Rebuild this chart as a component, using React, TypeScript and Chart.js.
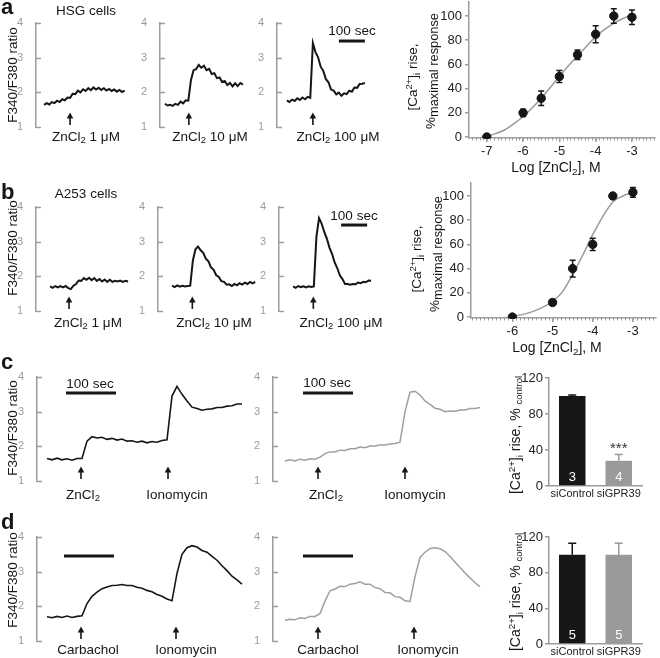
import React, { useEffect, useRef } from 'react';
import { Chart, registerables } from 'chart.js';

Chart.register(...registerables);

const FONT = '"Liberation Sans", Arial, Helvetica, sans-serif';
Chart.defaults.font.family = FONT;

const INK = '#161616';
const AXIS_GRAY = '#9c9c9c';
const LIGHT_TRACE = '#a0a0a0';
const BAR_GRAY = '#9a9a9a';
const FIT_GRAY = '#9a9a9a';
const LABEL_DARK = '#222222';

// ---------------- traces: F340/F380 ratio, one sample every 10 s ----------------
const RATIO_TICKS = [1, 2, 3, 4];
const TRACE_STEP_SEC = 10;
const SCALE_BAR_SEC = 100;
const ARROW_TIP = 1.42;
const ARROW_TAIL = 1.06;

const HSG_ZN_1UM = [1.64, 1.69, 1.65, 1.72, 1.69, 1.76, 1.72, 1.80, 1.77, 1.85, 1.84, 1.96, 1.95, 2.05, 2.00, 2.09, 2.04, 2.12, 2.06, 2.14, 2.08, 2.13, 2.07, 2.12, 2.05, 2.10, 2.04, 2.08, 2.02, 2.07, 2.01, 2.05];
const HSG_ZN_10UM = [1.67, 1.62, 1.64, 1.61, 1.67, 1.64, 1.73, 1.68, 1.77, 1.76, 2.35, 2.64, 2.67, 2.79, 2.71, 2.77, 2.64, 2.68, 2.53, 2.55, 2.41, 2.43, 2.30, 2.33, 2.21, 2.27, 2.17, 2.26, 2.18, 2.27, 2.22];
const HSG_ZN_100UM = [1.77, 1.72, 1.79, 1.75, 1.83, 1.78, 1.85, 1.80, 1.87, 1.84, 3.42, 3.16, 3.01, 2.74, 2.62, 2.38, 2.29, 2.08, 2.05, 1.94, 1.99, 1.90, 1.97, 1.95, 2.05, 2.02, 2.14, 2.13, 2.24, 2.25, 2.27];
const A253_ZN_1UM = [1.71, 1.67, 1.72, 1.68, 1.72, 1.68, 1.72, 1.66, 1.63, 1.73, 1.78, 1.88, 1.87, 1.95, 1.90, 1.96, 1.89, 1.95, 1.87, 1.92, 1.85, 1.91, 1.84, 1.90, 1.84, 1.87, 1.85, 1.88, 1.84, 1.87, 1.85];
const A253_ZN_10UM = [1.73, 1.69, 1.74, 1.70, 1.73, 1.71, 1.72, 1.73, 2.45, 2.78, 2.86, 2.75, 2.68, 2.51, 2.43, 2.26, 2.19, 2.03, 1.98, 1.86, 1.84, 1.76, 1.77, 1.72, 1.78, 1.74, 1.80, 1.76, 1.82, 1.78, 1.84, 1.80, 1.84];
const A253_ZN_100UM = [1.71, 1.67, 1.72, 1.69, 1.71, 1.68, 1.71, 1.69, 1.71, 3.15, 3.68, 3.52, 3.28, 3.09, 2.83, 2.65, 2.40, 2.24, 2.03, 1.92, 1.78, 1.78, 1.76, 1.78, 1.77, 1.82, 1.80, 1.84, 1.83, 1.88, 1.87];
const SICONTROL_ZN_IONO = [1.65, 1.61, 1.66, 1.61, 1.64, 1.60, 1.65, 1.65, 2.15, 2.28, 2.24, 2.26, 2.20, 2.23, 2.18, 2.21, 2.15, 2.16, 2.12, 2.15, 2.10, 2.14, 2.12, 2.17, 2.19, 3.45, 3.73, 3.50, 3.31, 3.13, 3.09, 3.04, 3.07, 3.08, 3.12, 3.12, 3.16, 3.17, 3.22, 3.22];
const SIGPR39_ZN_IONO = [1.58, 1.61, 1.58, 1.63, 1.60, 1.64, 1.63, 1.69, 1.79, 1.84, 1.84, 1.89, 1.88, 1.93, 1.93, 1.98, 1.96, 2.01, 2.01, 2.04, 2.04, 2.07, 2.08, 2.12, 3.00, 3.56, 3.59, 3.48, 3.31, 3.21, 3.10, 3.07, 3.00, 3.02, 3.01, 3.05, 3.05, 3.09, 3.09, 3.12];
const SICONTROL_CARB_IONO = [1.70, 1.67, 1.71, 1.68, 1.72, 1.68, 1.71, 1.73, 2.08, 2.29, 2.41, 2.51, 2.56, 2.60, 2.61, 2.63, 2.60, 2.60, 2.55, 2.52, 2.46, 2.42, 2.34, 2.29, 2.21, 2.16, 2.95, 3.50, 3.69, 3.75, 3.71, 3.61, 3.56, 3.44, 3.33, 3.17, 3.03, 2.87, 2.76, 2.64];
const SIGPR39_CARB_IONO = [1.60, 1.63, 1.61, 1.67, 1.65, 1.71, 1.71, 1.79, 2.15, 2.45, 2.50, 2.58, 2.57, 2.64, 2.66, 2.71, 2.64, 2.64, 2.54, 2.51, 2.40, 2.39, 2.28, 2.26, 2.16, 2.14, 2.85, 3.41, 3.56, 3.67, 3.69, 3.66, 3.58, 3.44, 3.28, 3.12, 2.96, 2.82, 2.68, 2.57];

// ---------------- dose-response ----------------
const DOSE_Y_TICKS = [0, 20, 40, 60, 80, 100];
const HSG_X_TICKS = [-7, -6, -5, -4, -3];
const HSG_LOG_CONC = [-7, -6, -5.5, -5, -4.5, -4, -3.5, -3];
const HSG_RESPONSE = [0, 20, 32, 50, 68, 85, 100, 99];
const HSG_SEM = [1, 3, 6, 5, 4, 7, 6, 6];
const HSG_FIT_X = [-7, -6.75, -6.5, -6.25, -6, -5.75, -5.5, -5.25, -5, -4.75, -4.5, -4.25, -4, -3.75, -3.5, -3.25, -3];
const HSG_FIT_Y = [0.5, 3, 6, 11, 17, 24, 32, 41, 50, 59, 67, 75, 83, 89, 94, 98, 101];

const A253_X_TICKS = [-6, -5, -4, -3];
const A253_LOG_CONC = [-6, -5, -4.5, -4, -3.5, -3];
const A253_RESPONSE = [0, 12, 40, 60, 100, 103];
const A253_SEM = [1, 2, 7, 5, 1, 4];
const A253_FIT_X = [-6, -5.75, -5.5, -5.25, -5, -4.75, -4.5, -4.25, -4, -3.75, -3.5, -3.25, -3];
const A253_FIT_Y = [1, 2, 4.5, 8, 13, 21, 35, 51, 68, 83, 95, 100, 103];

// ---------------- bars: [Ca2+]i rise, % control ----------------
const BAR_GROUPS = ['siControl', 'siGPR39'];
const BAR_Y_TICKS = [0, 40, 80, 120];
const ZN_RISE = [100, 28];
const ZN_RISE_SEM = [1, 7];
const ZN_N = ['3', '4'];
const ZN_SIG = ['', '***'];
const CARB_RISE = [100, 100];
const CARB_RISE_SEM = [13, 13];
const CARB_N = ['5', '5'];
const CARB_SIG = ['', ''];

// ---------------- helpers ----------------
type Area = { L: number; R: number; T: number; B: number };
type Box = { left: number; top: number; width: number; height: number };

function boxFor(a: Area, pad: { l: number; t: number; r: number; b: number }, yW: number, xH: number): Box {
  const left = a.L - pad.l - yW;
  const top = a.T - pad.t;
  return { left, top, width: a.R + pad.r - left, height: a.B + xH + pad.b - top };
}

function ChartCanvas({ box, make }: { box: Box; make: () => any }) {
  const ref = useRef<HTMLCanvasElement>(null);
  useEffect(() => {
    const chart = new Chart(ref.current as HTMLCanvasElement, make());
    return () => chart.destroy();
  }, []);
  return (
    <canvas
      ref={ref}
      width={box.width}
      height={box.height}
      style={{ position: 'absolute', left: box.left, top: box.top, width: box.width, height: box.height }}
    />
  );
}

const baseOptions = (pad: any) => ({
  responsive: false,
  animation: false,
  events: [],
  layout: { padding: { left: pad.l, top: pad.t, right: pad.r, bottom: pad.b } },
  plugins: { legend: { display: false }, tooltip: { enabled: false }, title: { display: false } },
});

// ---------------- trace panels ----------------
type TracePanel = {
  id: string; values: number[]; color: string; lw: number;
  L: number; R: number; T: number; xMin: number; pps: number;
  arrows: number[]; bar?: { t: number; y: number };
};

const TRACE_PAD = { l: 2, t: 14, r: 4, b: 14 };
const TRACE_YW = 22;
const TRACE_H = 104;

const PANELS: TracePanel[] = [
  { id: 'a1', values: HSG_ZN_1UM, color: INK, lw: 2, L: 36, R: 130, T: 23, xMin: -31, pps: 0.26, arrows: [100] },
  { id: 'a2', values: HSG_ZN_10UM, color: INK, lw: 2, L: 160, R: 250, T: 23, xMin: -19, pps: 0.26, arrows: [92] },
  { id: 'a3', values: HSG_ZN_100UM, color: INK, lw: 2, L: 277, R: 372, T: 23, xMin: -38, pps: 0.26, arrows: [100], bar: { t: 200, y: 3.48 } },
  { id: 'b1', values: A253_ZN_1UM, color: INK, lw: 2, L: 36, R: 132, T: 207, xMin: -54, pps: 0.26, arrows: [73] },
  { id: 'b2', values: A253_ZN_10UM, color: INK, lw: 2, L: 158, R: 260, T: 207, xMin: -54, pps: 0.26, arrows: [78] },
  { id: 'b3', values: A253_ZN_100UM, color: INK, lw: 2, L: 279, R: 376, T: 207, xMin: -54, pps: 0.26, arrows: [78], bar: { t: 185, y: 3.48 } },
  { id: 'c1', values: SICONTROL_ZN_IONO, color: INK, lw: 1.6, L: 37, R: 248, T: 377, xMin: -20, pps: 0.5, arrows: [68, 242], bar: { t: 38, y: 3.54 } },
  { id: 'c2', values: SIGPR39_ZN_IONO, color: LIGHT_TRACE, lw: 1.5, L: 273, R: 486, T: 377, xMin: -24, pps: 0.5, arrows: [66, 240], bar: { t: 36, y: 3.54 } },
  { id: 'd1', values: SICONTROL_CARB_IONO, color: INK, lw: 1.6, L: 37, R: 248, T: 537, xMin: -20, pps: 0.5, arrows: [68, 258], bar: { t: 34, y: 3.45 } },
  { id: 'd2', values: SIGPR39_CARB_IONO, color: LIGHT_TRACE, lw: 1.5, L: 273, R: 486, T: 537, xMin: -24, pps: 0.5, arrows: [66, 258], bar: { t: 36, y: 3.45 } },
];

function traceDecor(p: TracePanel) {
  return {
    id: 'traceDecor',
    afterDraw(chart: any) {
      const { ctx, chartArea } = chart;
      const xs = chart.scales.x;
      const ys = chart.scales.y;
      ctx.save();
      ctx.strokeStyle = AXIS_GRAY;
      ctx.lineWidth = 1.5;
      for (const v of RATIO_TICKS) {
        const y = Math.round(ys.getPixelForValue(v)) + 0.5;
        ctx.beginPath();
        ctx.moveTo(chartArea.left, y);
        ctx.lineTo(chartArea.left + 5, y);
        ctx.stroke();
      }
      ctx.strokeStyle = INK;
      ctx.fillStyle = INK;
      for (const t of p.arrows) {
        const x = xs.getPixelForValue(t);
        const yTip = ys.getPixelForValue(ARROW_TIP);
        const yTail = ys.getPixelForValue(ARROW_TAIL);
        ctx.lineWidth = 1.6;
        ctx.beginPath();
        ctx.moveTo(x, yTail);
        ctx.lineTo(x, yTip + 4);
        ctx.stroke();
        ctx.beginPath();
        ctx.moveTo(x, yTip);
        ctx.lineTo(x - 3.3, yTip + 6);
        ctx.lineTo(x + 3.3, yTip + 6);
        ctx.closePath();
        ctx.fill();
      }
      if (p.bar) {
        const x0 = xs.getPixelForValue(p.bar.t);
        const x1 = xs.getPixelForValue(p.bar.t + SCALE_BAR_SEC);
        const y = ys.getPixelForValue(p.bar.y);
        ctx.lineWidth = 3;
        ctx.beginPath();
        ctx.moveTo(x0, y);
        ctx.lineTo(x1, y);
        ctx.stroke();
      }
      ctx.restore();
    },
  };
}

function traceConfig(p: TracePanel) {
  const xMax = p.xMin + (p.R - p.L) / p.pps;
  return {
    type: 'line',
    data: {
      datasets: [
        {
          data: p.values.map((v, i) => ({ x: i * TRACE_STEP_SEC, y: v })),
          borderColor: p.color,
          borderWidth: p.lw,
          pointRadius: 0,
          tension: 0,
          fill: false,
        },
      ],
    },
    options: {
      ...baseOptions(TRACE_PAD),
      scales: {
        x: { type: 'linear', display: false, min: p.xMin, max: xMax },
        y: {
          min: 1,
          max: 4,
          afterFit: (s: any) => { s.width = TRACE_YW; },
          afterBuildTicks: (s: any) => { s.ticks = RATIO_TICKS.map((v) => ({ value: v })); },
          grid: { display: false },
          border: { display: true, color: AXIS_GRAY, width: 1.5 },
          ticks: { color: AXIS_GRAY, font: { size: 11 }, padding: 5 },
        },
      },
    },
    plugins: [traceDecor(p)],
  };
}

// ---------------- dose-response panels ----------------
type DosePanel = {
  area: Area; xMin: number; xMax: number; yMin: number; yMax: number;
  xTicks: number[]; xs: number[]; ys: number[]; sem: number[]; fitX: number[]; fitY: number[];
};
const DOSE_PAD = { l: 2, t: 14, r: 3, b: 2 };
const DOSE_YW = 32;
const DOSE_XH = 24;
const MINOR_STEP = 0.1;

const DOSE_PANELS: DosePanel[] = [
  { area: { L: 469, R: 657, T: 2, B: 138 }, xMin: -7.49, xMax: -2.37, yMin: -0.8, yMax: 111.6, xTicks: HSG_X_TICKS, xs: HSG_LOG_CONC, ys: HSG_RESPONSE, sem: HSG_SEM, fitX: HSG_FIT_X, fitY: HSG_FIT_Y },
  { area: { L: 471, R: 658, T: 183, B: 318 }, xMin: -7.03, xMax: -2.43, yMin: -0.8, yMax: 110.7, xTicks: A253_X_TICKS, xs: A253_LOG_CONC, ys: A253_RESPONSE, sem: A253_SEM, fitX: A253_FIT_X, fitY: A253_FIT_Y },
];

function doseDecor(p: DosePanel) {
  return {
    id: 'doseDecor',
    afterDraw(chart: any) {
      const { ctx, chartArea } = chart;
      const xs = chart.scales.x;
      const ys = chart.scales.y;
      ctx.save();
      ctx.strokeStyle = AXIS_GRAY;
      ctx.lineWidth = 1;
      const first = Math.ceil(p.xMin / MINOR_STEP);
      const last = Math.floor(p.xMax / MINOR_STEP);
      for (let k = first; k <= last; k++) {
        const x = Math.round(xs.getPixelForValue(k * MINOR_STEP)) + 0.5;
        ctx.beginPath();
        ctx.moveTo(x, chartArea.bottom);
        ctx.lineTo(x, chartArea.bottom + 2.5);
        ctx.stroke();
      }
      ctx.strokeStyle = INK;
      ctx.lineWidth = 1.5;
      p.xs.forEach((xv, i) => {
        const x = xs.getPixelForValue(xv);
        const y0 = ys.getPixelForValue(p.ys[i] - p.sem[i]);
        const y1 = ys.getPixelForValue(p.ys[i] + p.sem[i]);
        ctx.beginPath();
        ctx.moveTo(x, y0); ctx.lineTo(x, y1);
        ctx.moveTo(x - 3, y0); ctx.lineTo(x + 3, y0);
        ctx.moveTo(x - 3, y1); ctx.lineTo(x + 3, y1);
        ctx.stroke();
      });
      ctx.restore();
    },
  };
}

function doseConfig(p: DosePanel) {
  return {
    type: 'scatter',
    data: {
      datasets: [
        {
          type: 'line',
          data: p.fitX.map((x, i) => ({ x, y: p.fitY[i] })),
          borderColor: FIT_GRAY,
          borderWidth: 1.5,
          pointRadius: 0,
          cubicInterpolationMode: 'monotone',
          fill: false,
          order: 2,
        },
        {
          type: 'scatter',
          data: p.xs.map((x, i) => ({ x, y: p.ys[i] })),
          backgroundColor: INK,
          borderColor: INK,
          pointRadius: 4.2,
          order: 1,
        },
      ],
    },
    options: {
      ...baseOptions(DOSE_PAD),
      scales: {
        x: {
          type: 'linear',
          min: p.xMin,
          max: p.xMax,
          afterFit: (s: any) => { s.height = DOSE_XH; },
          afterBuildTicks: (s: any) => { s.ticks = p.xTicks.map((v) => ({ value: v })); },
          grid: { display: true, drawOnChartArea: false, drawTicks: true, tickLength: 4, color: AXIS_GRAY, lineWidth: 1.5 },
          border: { display: true, color: AXIS_GRAY, width: 1.5 },
          ticks: { color: LABEL_DARK, font: { size: 13 }, padding: 2, callback: (v: any) => String(v) },
        },
        y: {
          min: p.yMin,
          max: p.yMax,
          afterFit: (s: any) => { s.width = DOSE_YW; },
          afterBuildTicks: (s: any) => { s.ticks = DOSE_Y_TICKS.map((v) => ({ value: v })); },
          grid: { display: true, drawOnChartArea: false, drawTicks: true, tickLength: 4, color: AXIS_GRAY, lineWidth: 1.5 },
          border: { display: true, color: AXIS_GRAY, width: 1.5 },
          ticks: { color: LABEL_DARK, font: { size: 13 }, padding: 3 },
        },
      },
    },
    plugins: [doseDecor(p)],
  };
}

// ---------------- bar panels ----------------
type BarPanel = { area: Area; values: number[]; sem: number[]; n: string[]; sig: string[] };
const BAR_PAD = { l: 2, t: 14, r: 12, b: 0 };
const BAR_YW = 34;
const BAR_XH = 16;
const BAR_COLORS = [INK, BAR_GRAY];

const BAR_PANELS: BarPanel[] = [
  { area: { L: 549, R: 642, T: 378, B: 486 }, values: ZN_RISE, sem: ZN_RISE_SEM, n: ZN_N, sig: ZN_SIG },
  { area: { L: 549, R: 642, T: 537, B: 644 }, values: CARB_RISE, sem: CARB_RISE_SEM, n: CARB_N, sig: CARB_SIG },
];

function barDecor(p: BarPanel) {
  return {
    id: 'barDecor',
    afterDatasetsDraw(chart: any) {
      const { ctx } = chart;
      const ys = chart.scales.y;
      const meta = chart.getDatasetMeta(0);
      ctx.save();
      meta.data.forEach((el: any, i: number) => {
        const x = el.x;
        const yTop = ys.getPixelForValue(p.values[i]);
        const yErr = ys.getPixelForValue(p.values[i] + p.sem[i]);
        ctx.strokeStyle = BAR_COLORS[i];
        ctx.lineWidth = 1.5;
        ctx.beginPath();
        ctx.moveTo(x, yTop); ctx.lineTo(x, yErr);
        ctx.moveTo(x - 4, yErr); ctx.lineTo(x + 4, yErr);
        ctx.stroke();
        ctx.fillStyle = '#ffffff';
        ctx.font = `13px ${FONT}`;
        ctx.textAlign = 'center';
        ctx.textBaseline = 'alphabetic';
        ctx.fillText(p.n[i], x, ys.getPixelForValue(0) - 5);
        if (p.sig[i]) {
          ctx.fillStyle = '#333333';
          ctx.font = `15px ${FONT}`;
          ctx.fillText(p.sig[i], x, yErr - 2);
        }
      });
      ctx.restore();
    },
  };
}

function barConfig(p: BarPanel) {
  return {
    type: 'bar',
    data: {
      labels: BAR_GROUPS,
      datasets: [
        {
          data: p.values,
          backgroundColor: BAR_COLORS,
          borderWidth: 0,
          barPercentage: 0.57,
          categoryPercentage: 1,
        },
      ],
    },
    options: {
      ...baseOptions(BAR_PAD),
      scales: {
        x: {
          afterFit: (s: any) => { s.height = BAR_XH; },
          grid: { display: false, drawTicks: false },
          border: { display: true, color: AXIS_GRAY, width: 1.5 },
          ticks: { color: LABEL_DARK, font: { size: 11 }, padding: 1, maxRotation: 0, minRotation: 0, autoSkip: false },
        },
        y: {
          min: 0,
          max: 120,
          afterFit: (s: any) => { s.width = BAR_YW; },
          afterBuildTicks: (s: any) => { s.ticks = BAR_Y_TICKS.map((v) => ({ value: v })); },
          grid: { display: true, drawOnChartArea: false, drawTicks: true, tickLength: 4, color: AXIS_GRAY, lineWidth: 1.5 },
          border: { display: true, color: AXIS_GRAY, width: 1.5 },
          ticks: { color: LABEL_DARK, font: { size: 13 }, padding: 2 },
        },
      },
    },
    plugins: [barDecor(p)],
  };
}

// ---------------- text helpers ----------------
function Label({ x, y, size = 13.5, align = 'center', weight = 400, color = INK, children }: any) {
  const tx = align === 'center' ? '-50%' : align === 'right' ? '-100%' : '0';
  return (
    <div
      style={{
        position: 'absolute', left: x, top: y - size * 0.85, fontSize: size, lineHeight: `${size}px`,
        fontFamily: FONT, fontWeight: weight, color, whiteSpace: 'nowrap', transform: `translateX(${tx})`,
      }}
    >
      {children}
    </div>
  );
}

function VLabel({ cx, cy, size = 13.5, color = INK, children }: any) {
  return (
    <div
      style={{
        position: 'absolute', left: cx, top: cy, fontSize: size, lineHeight: `${size}px`,
        fontFamily: FONT, color, whiteSpace: 'nowrap', transform: 'translate(-50%, -50%) rotate(-90deg)',
      }}
    >
      {children}
    </div>
  );
}

const Sub = ({ children, scale = 0.7, drop = 0.3 }: any) => (
  <span style={{ fontSize: `${scale}em`, position: 'relative', top: `${drop}em` }}>{children}</span>
);
const Sup = ({ children, scale = 0.7 }: any) => (
  <span style={{ fontSize: `${scale}em`, position: 'relative', top: '-0.55em' }}>{children}</span>
);

const Zn = () => (<>ZnCl<Sub>2</Sub></>);
const CaRise = () => (<>[Ca<Sup>2+</Sup>]<Sub>i</Sub> rise,</>);

export default function App() {
  return (
    <div style={{ position: 'absolute', left: 0, top: 0, width: 660, height: 658, overflow: 'hidden', background: '#ffffff', fontFamily: FONT }}>
      {PANELS.map((p) => (
        <ChartCanvas
          key={p.id}
          box={boxFor({ L: p.L, R: p.R, T: p.T, B: p.T + TRACE_H }, TRACE_PAD, TRACE_YW, 0)}
          make={() => traceConfig(p)}
        />
      ))}
      {DOSE_PANELS.map((p, i) => (
        <ChartCanvas key={'dose' + i} box={boxFor(p.area, DOSE_PAD, DOSE_YW, DOSE_XH)} make={() => doseConfig(p)} />
      ))}
      {BAR_PANELS.map((p, i) => (
        <ChartCanvas key={'bar' + i} box={boxFor(p.area, BAR_PAD, BAR_YW, BAR_XH)} make={() => barConfig(p)} />
      ))}

      {/* panel letters */}
      <Label x={1} y={15} size={22} weight={700} align="left">a</Label>
      <Label x={1} y={200} size={22} weight={700} align="left">b</Label>
      <Label x={1} y={370} size={22} weight={700} align="left">c</Label>
      <Label x={1} y={530} size={22} weight={700} align="left">d</Label>

      <Label x={86} y={15}>HSG cells</Label>
      <Label x={86} y={198}>A253 cells</Label>

      {/* y titles of trace rows */}
      <VLabel cx={13} cy={75}>F340/F380 ratio</VLabel>
      <VLabel cx={13} cy={248}>F340/F380 ratio</VLabel>
      <VLabel cx={13} cy={428}>F340/F380 ratio</VLabel>
      <VLabel cx={13} cy={580}>F340/F380 ratio</VLabel>

      {/* row a / b stimulus labels */}
      <Label x={86} y={141}><Zn /> 1 μM</Label>
      <Label x={210} y={141}><Zn /> 10 μM</Label>
      <Label x={338} y={141}><Zn /> 100 μM</Label>
      <Label x={88} y={327}><Zn /> 1 μM</Label>
      <Label x={214} y={327}><Zn /> 10 μM</Label>
      <Label x={341} y={327}><Zn /> 100 μM</Label>

      {/* scale bar texts */}
      <Label x={352} y={35}>100 sec</Label>
      <Label x={354} y={220}>100 sec</Label>
      <Label x={90} y={388}>100 sec</Label>
      <Label x={327} y={387}>100 sec</Label>

      {/* row c / d stimulus labels */}
      <Label x={83} y={499}><Zn /></Label>
      <Label x={177} y={499}>Ionomycin</Label>
      <Label x={326} y={499}><Zn /></Label>
      <Label x={415} y={499}>Ionomycin</Label>
      <Label x={88} y={654}>Carbachol</Label>
      <Label x={186} y={654}>Ionomycin</Label>
      <Label x={328} y={654}>Carbachol</Label>
      <Label x={428} y={654}>Ionomycin</Label>

      {/* dose-response titles */}
      <VLabel cx={413} cy={77}><CaRise /></VLabel>
      <VLabel cx={431} cy={71}>%<Sub scale={0.95} drop={0.22}>maximal response</Sub></VLabel>
      <Label x={556} y={172} size={14}>Log [<Zn />], M</Label>
      <VLabel cx={417} cy={259}><CaRise /></VLabel>
      <VLabel cx={435} cy={254}>%<Sub scale={0.95} drop={0.22}>maximal response</Sub></VLabel>
      <Label x={557} y={352} size={14}>Log [<Zn />], M</Label>

      {/* bar y titles */}
      <VLabel cx={516} cy={435} size={14}><CaRise /> % <Sub scale={0.68} drop={0.2}>control</Sub></VLabel>
      <VLabel cx={516} cy={592} size={14}><CaRise /> % <Sub scale={0.68} drop={0.2}>control</Sub></VLabel>
    </div>
  );
}
